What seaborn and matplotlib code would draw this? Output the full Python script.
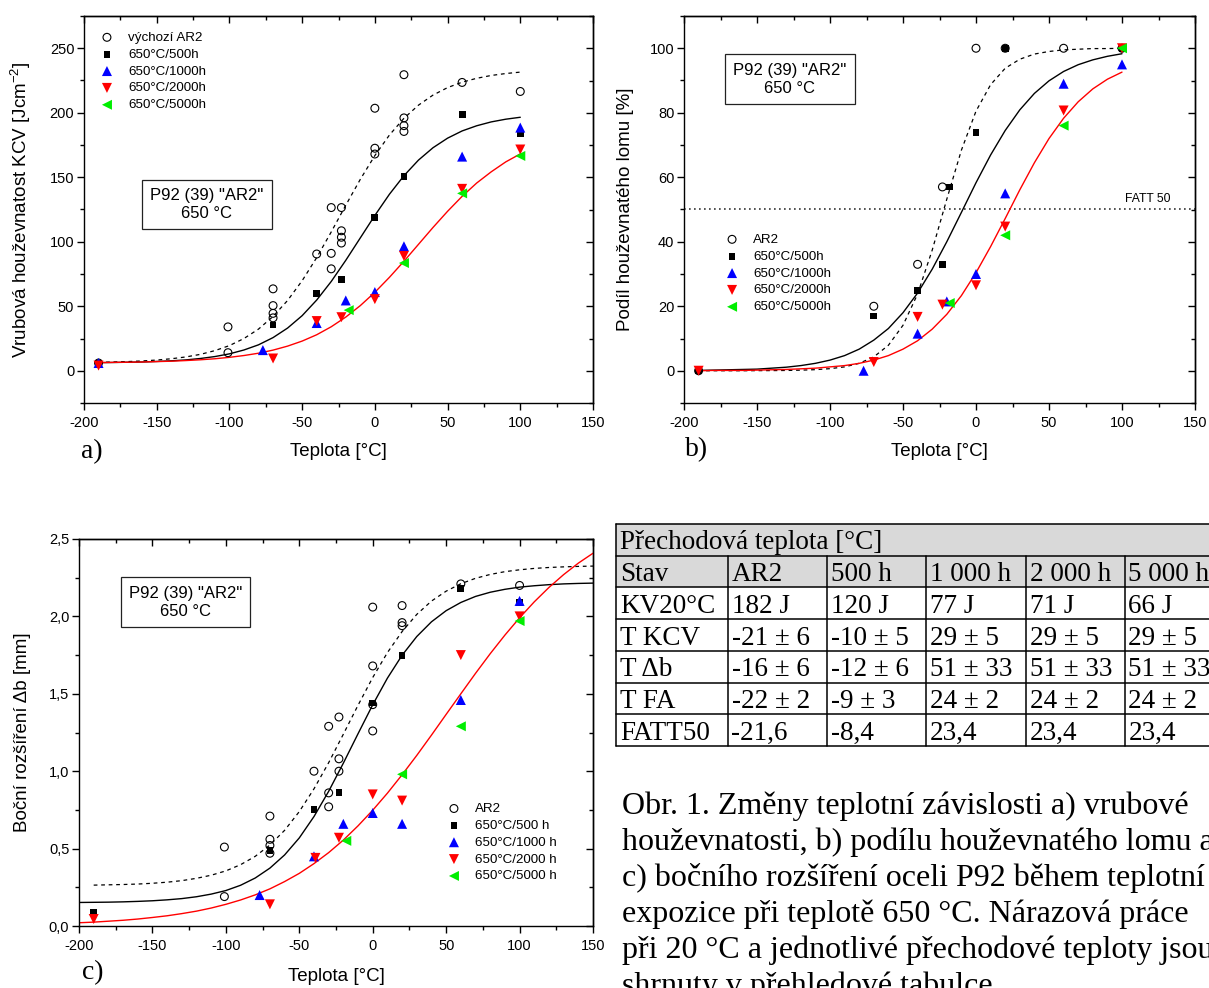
import matplotlib
matplotlib.use("Agg")
import numpy as np
import matplotlib.pyplot as plt
from matplotlib.ticker import MultipleLocator, FuncFormatter, NullFormatter
from matplotlib.patches import Rectangle
import seaborn as sns

# ---------------- a) KCV [J/cm2] ----------------
kcv_ar2_t = [-190, -101, -101, -70, -70, -70, -70, -40, -30, -30, -30, -23, -23, -23, -23,
             0, 0, 0, 20, 20, 20, 20, 60, 100]
kcv_ar2 = [6, 34, 14, 63.5, 50.5, 44.5, 41, 90.5, 126.5, 91, 79, 126.5, 108.5, 103.5, 99,
           203.5, 172.5, 168, 229.5, 196, 190, 185.5, 223.5, 216.5]
kcv_500_t = [-190, -70, -40, -23, 0, 20, 60, 100]
kcv_500 = [6, 35.5, 60, 70.5, 118.5, 150.5, 198.5, 184]
kcv_1000_t = [-190, -77, -40, -20, 0, 20, 60, 100]
kcv_1000 = [6, 16, 37, 54.5, 61, 96.5, 166, 188.5]
kcv_2000_t = [-190, -70, -40, -23, 0, 20, 60, 100]
kcv_2000 = [4, 9.5, 38.5, 41.5, 55.5, 89, 141, 171.5]
kcv_5000_t = [-18, 20, 60, 100]
kcv_5000 = [47, 83.5, 137.5, 166.5]

# fitted curves
fit_t_a = [-190, -180, -170, -160, -150, -140, -130, -120, -110, -100, -90, -80, -70, -60, -50,
           -40, -30, -20, -10, 0, 10, 20, 30, 40, 50, 60, 70, 80, 90, 100]
fit_kcv_ar2 = [6.5, 6.8, 7.1, 7.6, 8.3, 9.3, 10.7, 12.7, 15.6, 19.5, 25.0, 32.3, 42.1, 54.5, 69.8,
               87.7, 107.6, 128.3, 148.4, 166.8, 182.7, 195.7, 205.9, 213.7, 219.5, 223.7, 226.7,
               228.9, 230.4, 231.5]
fit_kcv_500 = [6.3, 6.4, 6.6, 6.8, 7.2, 7.7, 8.4, 9.5, 11.0, 13.1, 16.1, 20.1, 25.7, 33.1, 42.7,
               54.8, 69.2, 85.6, 103.0, 120.4, 136.8, 151.2, 163.3, 172.9, 180.3, 185.9, 189.9,
               192.9, 195.0, 196.5]
fit_kcv_aged = [6.3, 6.5, 6.6, 6.8, 7.1, 7.4, 7.9, 8.5, 9.3, 10.4, 11.8, 13.6, 16.0, 19.1, 23.0,
                27.9, 34.1, 41.6, 50.5, 60.8, 72.4, 84.9, 98.0, 111.1, 123.6, 135.2, 145.5,
                154.2, 161.9, 168.1]

# ---------------- b) ductile fracture share [%] ----------------
fa_ar2_t = [-190, -70, -40, -23, 0, 20, 60, 100]
fa_ar2 = [0, 20, 33, 57, 100, 100, 100, 100]
fa_500_t = [-190, -70, -40, -23, -18, 0, 20, 100]
fa_500 = [0, 17, 25, 33, 57, 74, 100, 100]
fa_1000_t = [-77, -40, -20, 0, 20, 60, 100]
fa_1000 = [0, 11.5, 21.5, 30, 55, 89, 95]
fa_2000_t = [-190, -70, -40, -23, 0, 20, 60, 100]
fa_2000 = [0, 2.7, 16.7, 20.5, 26.5, 44.7, 80.7, 100]
fa_5000_t = [-18, 20, 60, 100]
fa_5000 = [21, 42, 76, 100]

fit_t_b = fit_t_a
fit_fa_ar2 = [0.0, 0.0, 0.0, 0.0, 0.03, 0.05, 0.09, 0.18, 0.34, 0.65, 1.2, 2.3, 4.3, 7.9, 14.1,
              23.8, 37.4, 53.2, 68.4, 80.5, 88.7, 93.8, 96.6, 98.2, 99.0, 99.5, 99.7, 99.9,
              99.9, 100.0]
fit_fa_500 = [0.1, 0.2, 0.3, 0.4, 0.5, 0.8, 1.1, 1.6, 2.3, 3.3, 4.7, 6.7, 9.5, 13.1, 18.0,
              24.1, 31.5, 40.0, 49.1, 58.3, 66.9, 74.5, 80.9, 86.0, 89.9, 92.8, 94.9, 96.4,
              97.5, 98.3]
fit_fa_aged = [0.0, 0.1, 0.1, 0.1, 0.2, 0.3, 0.4, 0.6, 0.8, 1.2, 1.6, 2.3, 3.3, 4.7, 6.7,
               9.3, 12.9, 17.5, 23.3, 30.4, 38.5, 47.2, 56.1, 64.5, 72.0, 78.3, 83.4, 87.4,
               90.4, 92.6]
fatt_level = 50

# ---------------- c) lateral expansion [mm] ----------------
db_ar2_t = [-101, -101, -70, -70, -70, -70, -40, -30, -30, -30, -23, -23, -23,
            0, 0, 0, 0, 20, 20, 20, 60, 100]
db_ar2 = [0.19, 0.51, 0.71, 0.56, 0.52, 0.47, 1.00, 1.29, 0.86, 0.77, 1.35, 1.08, 1.00,
          2.06, 1.68, 1.43, 1.26, 2.07, 1.96, 1.94, 2.21, 2.20]
db_500_t = [-190, -70, -40, -23, 0, 20, 60, 100]
db_500 = [0.09, 0.49, 0.75, 0.86, 1.44, 1.75, 2.18, 2.09]
db_1000_t = [-77, -40, -20, 0, 20, 60, 100]
db_1000 = [0.20, 0.45, 0.66, 0.73, 0.66, 1.46, 2.10]
db_2000_t = [-190, -70, -39, -23, 0, 20, 60, 100]
db_2000 = [0.045, 0.14, 0.44, 0.57, 0.85, 0.81, 1.75, 2.00]
db_5000_t = [-18, 20, 60, 100]
db_5000 = [0.55, 0.98, 1.29, 1.97]

fit_t_c_ar2 = [-190, -180, -170, -160, -150, -140, -130, -120, -110, -100, -90, -80, -70, -60,
               -50, -40, -30, -20, -10, 0, 10, 20, 30, 40, 50, 60, 70, 80, 90, 100, 110, 120,
               130, 140, 150]
fit_db_ar2 = [0.264, 0.266, 0.268, 0.271, 0.276, 0.283, 0.293, 0.308, 0.328, 0.356, 0.396,
              0.450, 0.523, 0.618, 0.739, 0.886, 1.055, 1.239, 1.426, 1.605, 1.766, 1.902,
              2.013, 2.099, 2.163, 2.211, 2.246, 2.271, 2.289, 2.301, 2.310, 2.316, 2.320,
              2.323, 2.325]
fit_t_c = [-200] + fit_t_c_ar2
fit_db_500 = [0.152, 0.153, 0.154, 0.156, 0.159, 0.163, 0.169, 0.177, 0.189, 0.206, 0.229,
              0.263, 0.310, 0.374, 0.459, 0.569, 0.707, 0.870, 1.052, 1.242, 1.429, 1.601,
              1.749, 1.870, 1.965, 2.037, 2.090, 2.129, 2.156, 2.175, 2.189, 2.198, 2.205,
              2.210, 2.213, 2.215]
fit_db_aged = [0.021, 0.025, 0.031, 0.037, 0.045, 0.055, 0.066, 0.080, 0.096, 0.116, 0.140,
               0.168, 0.201, 0.240, 0.287, 0.340, 0.403, 0.474, 0.555, 0.647, 0.748, 0.858,
               0.977, 1.102, 1.233, 1.367, 1.500, 1.632, 1.759, 1.879, 1.991, 2.094, 2.187,
               2.270, 2.344, 2.408]

# ---------------- table ----------------
tab_title = "Přechodová teplota [°C]"
tab_header = ["Stav", "AR2", "500 h", "1 000 h", "2 000 h", "5 000 h"]
tab_rows = [
    ["KV20°C", "182 J", "120 J", "77 J", "71 J", "66 J"],
    ["T KCV", "-21 ± 6", "-10 ± 5", "29 ± 5", "29 ± 5", "29 ± 5"],
    ["T Δb", "-16 ± 6", "-12 ± 6", "51 ± 33", "51 ± 33", "51 ± 33"],
    ["T FA", "-22 ± 2", "-9 ± 3", "24 ± 2", "24 ± 2", "24 ± 2"],
    ["FATT50", "-21,6", "-8,4", "23,4", "23,4", "23,4"],
]
col_w = [111.5, 99.5, 99, 99.5, 99, 99.5]

caption = [
    "Obr. 1. Změny teplotní závislosti a) vrubové",
    "houževnatosti, b) podílu houževnatého lomu a",
    "c) bočního rozšíření oceli P92 během teplotní",
    "expozice při teplotě 650 °C. Nárazová práce",
    "při 20 °C a jednotlivé přechodové teploty jsou",
    "shrnuty v přehledové tabulce.",
]

box_text = 'P92 (39) "AR2"\n650 °C'

sns.set_style("ticks", {"axes.edgecolor": "black", "xtick.color": "black",
                        "ytick.color": "black", "text.color": "black",
                        "axes.labelcolor": "black"})
plt.rcParams["font.family"] = ["Liberation Sans", "DejaVu Sans"]
plt.rcParams["mathtext.default"] = "regular"
plt.rcParams["axes.unicode_minus"] = False
SERIF = ["Liberation Serif", "DejaVu Serif"]

W, H = 1209, 988
fig = plt.figure(figsize=(W / 100, H / 100), dpi=100)


def px_axes(l, t, r, b):
    return fig.add_axes([l / W, 1 - b / H, (r - l) / W, (b - t) / H])


def frame(ax, ylim, ymaj, ymin, yfmt=None):
    ax.set_xlim(-200, 150)
    ax.set_ylim(*ylim)
    ax.xaxis.set_major_locator(MultipleLocator(50))
    ax.xaxis.set_minor_locator(MultipleLocator(25))
    ax.yaxis.set_major_locator(MultipleLocator(ymaj))
    ax.yaxis.set_minor_locator(MultipleLocator(ymin))
    if yfmt is not None:
        ax.yaxis.set_major_formatter(yfmt)
    ax.tick_params(which="both", direction="out", width=1.0, labelsize=10.5,
                   top=False, right=False)
    ax.tick_params(which="major", length=5)
    ax.tick_params(which="minor", length=3)
    ax.tick_params(axis="x", pad=4)
    ax.tick_params(axis="y", pad=2)
    for s in ax.spines.values():
        s.set_linewidth(1.0)
    top = ax.secondary_xaxis("top")
    top.xaxis.set_major_locator(MultipleLocator(50))
    top.xaxis.set_minor_locator(MultipleLocator(25))
    top.xaxis.set_major_formatter(NullFormatter())
    right = ax.secondary_yaxis("right")
    right.yaxis.set_major_locator(MultipleLocator(ymaj))
    right.yaxis.set_minor_locator(MultipleLocator(ymin))
    right.yaxis.set_major_formatter(NullFormatter())
    for sec in (top, right):
        sec.tick_params(which="both", direction="in", width=1.0)
        sec.tick_params(which="major", length=5)
        sec.tick_params(which="minor", length=3)
        for s in sec.spines.values():
            s.set_linewidth(1.0)


def points(ax, series, labels):
    styles = [dict(marker="o", s=32, facecolor="none", edgecolor="black", linewidth=0.8),
              dict(marker="s", s=24, color="black", edgecolor="none", linewidth=0),
              dict(marker="^", s=52, color="#0000ff", edgecolor="none", linewidth=0),
              dict(marker="v", s=52, color="#ff0000", edgecolor="none", linewidth=0),
              dict(marker="<", s=52, color="#00ee00", edgecolor="none", linewidth=0)]
    for (t, v), st, lab in zip(series, styles, labels):
        sns.scatterplot(x=t, y=v, ax=ax, label=lab, zorder=3, **st)


def curves(ax, t_ar2, v_ar2, t_500, v_500, t_aged, v_aged):
    sns.lineplot(x=t_ar2, y=v_ar2, ax=ax, color="black", lw=0.9, linestyle=(0, (3, 3)),
                 estimator=None, sort=False)
    sns.lineplot(x=t_500, y=v_500, ax=ax, color="black", lw=1.0,
                 estimator=None, sort=False)
    sns.lineplot(x=t_aged, y=v_aged, ax=ax, color="#ff0000", lw=1.0,
                 estimator=None, sort=False)


def legend(ax, anchor):
    ax.legend(loc="upper left", bbox_to_anchor=anchor, frameon=False, fontsize=9.6,
              handlelength=1.0, handletextpad=1.07, borderpad=0, borderaxespad=0,
              labelspacing=0.34, scatterpoints=1)


def note_box(ax, xy):
    ax.text(xy[0], xy[1], box_text, transform=ax.transAxes, ha="center", va="center",
            multialignment="center", fontsize=12, linespacing=1.25, zorder=5,
            bbox=dict(boxstyle="square,pad=0.5", fc="white", ec="#222222", lw=0.9))


# ---- panel a
ax_a = px_axes(84, 16, 593, 403)
curves(ax_a, fit_t_a, fit_kcv_ar2, fit_t_a, fit_kcv_500, fit_t_a, fit_kcv_aged)
points(ax_a, [(kcv_ar2_t, kcv_ar2), (kcv_500_t, kcv_500), (kcv_1000_t, kcv_1000),
              (kcv_2000_t, kcv_2000), (kcv_5000_t, kcv_5000)],
       ["výchozí AR2", "650°C/500h", "650°C/1000h", "650°C/2000h", "650°C/5000h"])
frame(ax_a, (-25, 275), 50, 25)
legend(ax_a, (0.032, 0.960))
note_box(ax_a, (0.241, 0.5125))
ax_a.set_xlabel("Teplota [°C]", fontsize=13.5)
ax_a.set_ylabel("Vrubová houževnatost KCV [Jcm$^{-2}$]", fontsize=13.5)
ax_a.xaxis.set_label_coords(0.5, -0.103)
ax_a.yaxis.set_label_coords(-0.100, 0.5)

# ---- panel b
ax_b = px_axes(684, 16, 1195, 403)
ax_b.axhline(fatt_level, color="#333333", lw=1.2, linestyle=(0, (1, 2)), zorder=1)
ax_b.text(117.5, 53.4, "FATT 50", ha="center", va="center", fontsize=8.7)
curves(ax_b, fit_t_b, fit_fa_ar2, fit_t_b, fit_fa_500, fit_t_b, fit_fa_aged)
points(ax_b, [(fa_ar2_t, fa_ar2), (fa_500_t, fa_500), (fa_1000_t, fa_1000),
              (fa_2000_t, fa_2000), (fa_5000_t, fa_5000)],
       ["AR2", "650°C/500h", "650°C/1000h", "650°C/2000h", "650°C/5000h"])
frame(ax_b, (-10, 110), 20, 10)
legend(ax_b, (0.081, 0.438))
note_box(ax_b, (0.2067, 0.8366))
ax_b.set_xlabel("Teplota [°C]", fontsize=13.5)
ax_b.set_ylabel("Podíl houževnatého lomu [%]", fontsize=13.5)
ax_b.xaxis.set_label_coords(0.5, -0.103)
ax_b.yaxis.set_label_coords(-0.098, 0.5)

# ---- panel c
ax_c = px_axes(79, 539, 593, 926)
curves(ax_c, fit_t_c_ar2, fit_db_ar2, fit_t_c, fit_db_500, fit_t_c, fit_db_aged)
points(ax_c, [(db_ar2_t, db_ar2), (db_500_t, db_500), (db_1000_t, db_1000),
              (db_2000_t, db_2000), (db_5000_t, db_5000)],
       ["AR2", "650°C/500 h", "650°C/1000 h", "650°C/2000 h", "650°C/5000 h"])
frame(ax_c, (0, 2.5), 0.5, 0.25,
      FuncFormatter(lambda v, p: f"{v:.1f}".replace(".", ",")))
legend(ax_c, (0.7165, 0.3187))
note_box(ax_c, (0.2072, 0.8367))
ax_c.set_xlabel("Teplota [°C]", fontsize=13.5)
ax_c.set_ylabel("Boční rozšíření Δb [mm]", fontsize=13.5)
ax_c.xaxis.set_label_coords(0.5, -0.108)
ax_c.yaxis.set_label_coords(-0.093, 0.5)

for lab, (x, y) in zip(["a)", "b)", "c)"], [(92, 452), (697, 450), (93, 973)]):
    fig.text(x / W, 1 - y / H, lab, ha="center", va="center", fontsize=20, family=SERIF)

# ---- table
total_w = sum(col_w)
n_rows = len(tab_rows) + 2
tab = px_axes(616, 524, 616 + total_w, 746)
tab.set_xlim(0, total_w)
tab.set_ylim(n_rows, 0)
tab.axis("off")
edges = np.concatenate([[0], np.cumsum(col_w)])
tab.add_patch(Rectangle((0, 0), total_w, 2, fc="#d9d9d9", ec="none", zorder=0))
for r in range(n_rows + 1):
    tab.plot([0, total_w], [r, r], color="black", lw=1.1, clip_on=False, zorder=2)
tab.plot([0, 0], [0, n_rows], color="black", lw=1.1, clip_on=False, zorder=2)
for e in edges[1:]:
    tab.plot([e, e], [1, n_rows], color="black", lw=1.1, clip_on=False, zorder=2)
txt = dict(fontsize=19.5, family=SERIF, va="baseline", ha="left")
tab.text(4, 0.78, tab_title, **txt)
for c, cell in enumerate(tab_header):
    tab.text(edges[c] + 4, 1.8, cell, **txt)
for r, row in enumerate(tab_rows):
    for c, cell in enumerate(row):
        tab.text(edges[c] + 4, r + 2.8, cell, **txt)

# ---- caption
for i, line in enumerate(caption):
    fig.text(622 / W, 1 - (814 + 36 * i) / H, line, fontsize=23, family=SERIF,
             va="baseline", ha="left")

fig.savefig("out.png", dpi=100)
